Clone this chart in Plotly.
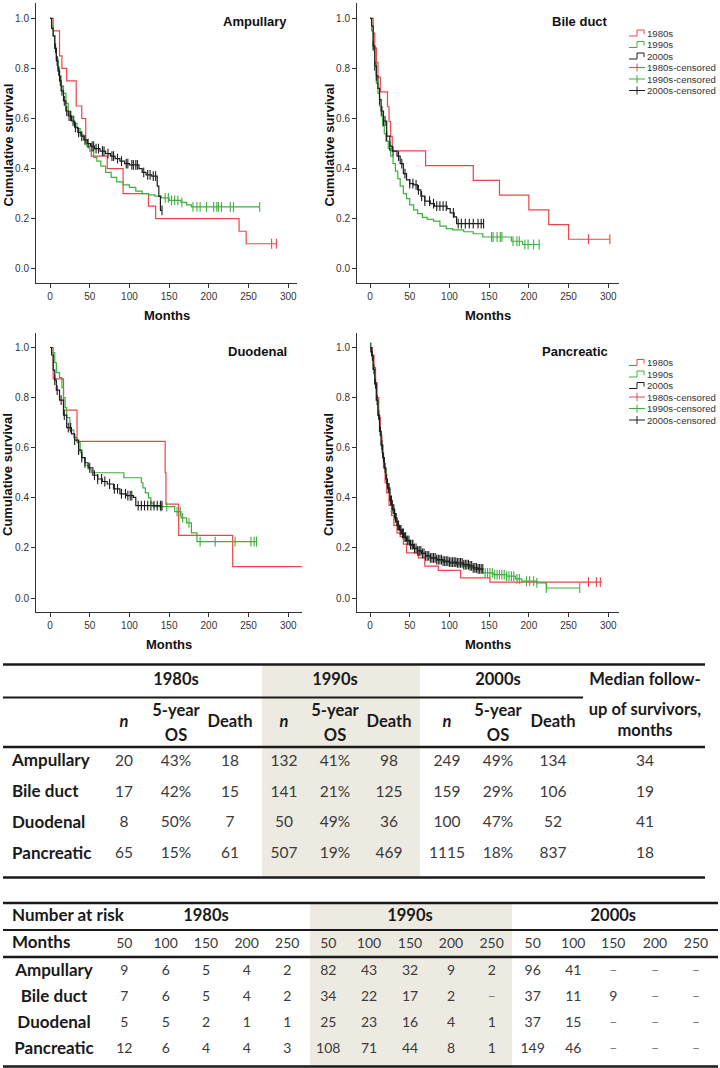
import numpy as np
import plotly.graph_objects as go

W, H = 720, 1068

# ---------------- DATA ----------------
categories = ["Ampullary", "Bile duct", "Duodenal", "Pancreatic"]
decades = ["1980s", "1990s", "2000s"]
colors = {"1980s": "#EE4449", "1990s": "#3DB03D", "2000s": "#1E1E1E"}

# Kaplan-Meier step points (months, cumulative survival) and censor times
amp80_t = [0, 4, 12, 15, 21, 33, 40, 45, 52, 72, 92, 124, 133, 238, 247, 285]
amp80_s = [1.0, 0.95, 0.85, 0.80, 0.75, 0.65, 0.60, 0.50, 0.45, 0.40, 0.30, 0.25, 0.20, 0.15, 0.10, 0.10]
amp80_c = [279, 285]
amp90_t = [0, 2, 4, 6, 8, 10, 12, 14, 17, 20, 23, 26, 30, 34, 38, 42, 46, 50, 55, 59, 64, 70, 77, 84, 92, 100, 108, 116, 124, 132, 140, 150, 165, 172, 178, 264]
amp90_s = [1.0, 0.97, 0.93, 0.88, 0.84, 0.80, 0.77, 0.73, 0.70, 0.66, 0.63, 0.61, 0.58, 0.56, 0.535, 0.515, 0.49, 0.47, 0.445, 0.43, 0.41, 0.385, 0.365, 0.347, 0.335, 0.325, 0.31, 0.30, 0.295, 0.29, 0.283, 0.273, 0.265, 0.255, 0.247, 0.247]
amp90_c = [145, 149, 153, 157, 161, 166, 180, 185, 189, 197, 206, 210, 212, 216, 227, 231, 264]
amp00_t = [0, 2, 4, 6, 8, 10, 12, 14, 17, 20, 23, 27, 31, 35, 39, 43, 47, 51, 56, 63, 70, 76, 82, 88, 94, 100, 112, 116, 121, 128, 135, 137, 139, 141]
amp00_s = [1.0, 0.96, 0.93, 0.88, 0.83, 0.79, 0.75, 0.71, 0.67, 0.63, 0.61, 0.59, 0.565, 0.545, 0.53, 0.515, 0.50, 0.49, 0.48, 0.47, 0.46, 0.45, 0.44, 0.43, 0.42, 0.415, 0.40, 0.385, 0.375, 0.37, 0.33, 0.29, 0.233, 0.233]
amp00_c = [7, 9, 11, 13, 15, 18, 21, 24, 26, 29, 32, 36, 40, 44, 48, 53, 55, 58, 61, 66, 68, 73, 78, 80, 85, 90, 96, 98, 103, 105, 108, 110, 118, 123, 126, 130, 133, 141]

bil80_t = [0, 4, 6, 8, 10, 13, 22, 24, 26, 28, 70, 130, 163, 200, 225, 250, 302]
bil80_s = [1.0, 0.941, 0.882, 0.824, 0.765, 0.706, 0.647, 0.588, 0.529, 0.471, 0.412, 0.353, 0.294, 0.235, 0.176, 0.118, 0.118]
bil80_c = [275, 302]
bil90_t = [0, 2, 4, 6, 8, 10, 12, 14, 16, 18, 20, 23, 26, 29, 32, 35, 38, 42, 46, 50, 55, 60, 66, 72, 80, 88, 96, 104, 118, 130, 142, 178, 192, 213]
bil90_s = [1.0, 0.95, 0.88, 0.82, 0.74, 0.70, 0.65, 0.61, 0.57, 0.54, 0.51, 0.48, 0.45, 0.42, 0.39, 0.36, 0.33, 0.30, 0.28, 0.255, 0.235, 0.22, 0.205, 0.197, 0.19, 0.17, 0.16, 0.155, 0.148, 0.14, 0.127, 0.11, 0.097, 0.097]
bil90_c = [153, 155, 160, 164, 166, 180, 185, 188, 195, 199, 206, 213]
bil00_t = [0, 2, 4, 6, 8, 10, 12, 14, 17, 21, 25, 28, 34, 38, 42, 46, 50, 55, 60, 64, 69, 76, 81, 97, 101, 106, 109, 143]
bil00_s = [1.0, 0.97, 0.89, 0.81, 0.77, 0.72, 0.675, 0.63, 0.59, 0.53, 0.49, 0.47, 0.45, 0.42, 0.38, 0.355, 0.34, 0.335, 0.315, 0.29, 0.27, 0.26, 0.25, 0.24, 0.223, 0.207, 0.18, 0.18]
bil00_c = [4, 6, 8, 12, 15, 17, 19, 21, 25, 29, 36, 40, 44, 50, 54, 58, 61, 65, 69, 75, 80, 84, 88, 92, 96, 105, 111, 115, 120, 125, 130, 136, 140, 143]

duo80_t = [0, 4, 17, 34, 145, 146, 162, 230, 317]
duo80_s = [1.0, 0.875, 0.75, 0.625, 0.5, 0.375, 0.25, 0.125, 0.125]
duo80_c = []
duo90_t = [0, 2, 6, 8, 12, 15, 17, 19, 21, 25, 30, 34, 38, 40, 44, 48, 52, 93, 115, 117, 120, 124, 127, 130, 157, 165, 172, 178, 185, 260]
duo90_s = [1.0, 0.98, 0.94, 0.90, 0.88, 0.84, 0.80, 0.76, 0.72, 0.67, 0.64, 0.62, 0.58, 0.56, 0.53, 0.515, 0.50, 0.48, 0.46, 0.44, 0.42, 0.40, 0.38, 0.365, 0.345, 0.32, 0.30, 0.26, 0.225, 0.225]
duo90_c = [140, 147, 160, 164, 167, 175, 189, 208, 233, 253, 257, 260]
duo00_t = [0, 2, 4, 6, 8, 12, 17, 21, 27, 31, 36, 40, 44, 48, 54, 60, 66, 72, 80, 88, 96, 105, 108, 141]
duo00_s = [1.0, 0.97, 0.91, 0.87, 0.83, 0.79, 0.73, 0.68, 0.655, 0.63, 0.59, 0.56, 0.54, 0.52, 0.49, 0.475, 0.465, 0.455, 0.436, 0.416, 0.409, 0.402, 0.369, 0.369]
duo00_c = [6, 9, 14, 18, 23, 26, 31, 36, 40, 44, 50, 56, 60, 65, 69, 75, 81, 85, 90, 95, 98, 101, 103, 111, 115, 119, 123, 127, 131, 135, 139, 141]

pan80_t = [0, 3, 5, 7, 9, 11, 13, 15, 17, 19, 21, 24, 27, 30, 34, 38, 42, 46, 61, 69, 86, 114, 151, 292]
pan80_s = [1.0, 0.97, 0.92, 0.86, 0.80, 0.72, 0.65, 0.58, 0.52, 0.46, 0.42, 0.37, 0.33, 0.29, 0.26, 0.245, 0.215, 0.18, 0.16, 0.127, 0.11, 0.08, 0.063, 0.063]
pan80_c = [275, 285, 290]
pan90_t = [0, 2, 4, 6, 8, 10, 12, 14, 16, 18, 20, 22, 25, 28, 31, 34, 37, 40, 43, 46, 50, 55, 60, 65, 70, 76, 84, 92, 100, 109, 118, 125, 132, 142, 155, 172, 183, 191, 210, 222, 264]
pan90_s = [1.0, 0.967, 0.913, 0.855, 0.79, 0.73, 0.665, 0.61, 0.56, 0.515, 0.47, 0.435, 0.385, 0.35, 0.315, 0.288, 0.27, 0.255, 0.24, 0.227, 0.21, 0.198, 0.188, 0.178, 0.168, 0.158, 0.15, 0.143, 0.138, 0.133, 0.127, 0.12, 0.113, 0.10, 0.093, 0.087, 0.076, 0.067, 0.06, 0.04, 0.04]
pan90_c = [145, 148, 151, 154, 157, 160, 163, 166, 169, 172, 175, 178, 181, 185, 188, 197, 201, 206, 210, 222, 264]
pan00_t = [0, 2, 4, 6, 8, 10, 12, 14, 16, 18, 20, 22, 25, 28, 31, 34, 37, 40, 43, 46, 50, 55, 60, 65, 70, 76, 84, 92, 100, 109, 118, 125, 130, 136, 143]
pan00_s = [1.0, 0.967, 0.913, 0.855, 0.79, 0.73, 0.665, 0.61, 0.56, 0.52, 0.475, 0.44, 0.39, 0.355, 0.32, 0.29, 0.272, 0.258, 0.243, 0.23, 0.213, 0.198, 0.188, 0.178, 0.168, 0.16, 0.153, 0.147, 0.143, 0.14, 0.133, 0.128, 0.12, 0.116, 0.116]
pan00_c = [1, 3, 5, 7, 9, 11, 13, 15, 17, 19, 21, 23, 24, 26, 27, 29, 30, 32, 33, 35, 36, 38, 39, 41, 42, 44, 45, 47, 49, 51, 53, 54, 56, 58, 60, 62, 64, 66, 68, 70, 72, 74, 76, 78, 80, 82, 84, 86, 88, 90, 92, 94, 96, 98, 100, 102, 104, 106, 108, 110, 112, 114, 116, 118, 120, 122, 124, 126, 128, 130, 132, 134, 136, 138, 140, 142]

km = {
    "Ampullary": {"1980s": (amp80_t, amp80_s, amp80_c), "1990s": (amp90_t, amp90_s, amp90_c), "2000s": (amp00_t, amp00_s, amp00_c)},
    "Bile duct": {"1980s": (bil80_t, bil80_s, bil80_c), "1990s": (bil90_t, bil90_s, bil90_c), "2000s": (bil00_t, bil00_s, bil00_c)},
    "Duodenal": {"1980s": (duo80_t, duo80_s, duo80_c), "1990s": (duo90_t, duo90_s, duo90_c), "2000s": (duo00_t, duo00_s, duo00_c)},
    "Pancreatic": {"1980s": (pan80_t, pan80_s, pan80_c), "1990s": (pan90_t, pan90_s, pan90_c), "2000s": (pan00_t, pan00_s, pan00_c)},
}

x_ticks = [0, 50, 100, 150, 200, 250, 300]
y_ticks = [0.0, 0.2, 0.4, 0.6, 0.8, 1.0]

# Summary table
n_1980s = [20, 17, 8, 65]
os5_1980s = [43, 42, 50, 15]
death_1980s = [18, 15, 7, 61]
n_1990s = [132, 141, 50, 507]
os5_1990s = [41, 21, 49, 19]
death_1990s = [98, 125, 36, 469]
n_2000s = [249, 159, 100, 1115]
os5_2000s = [49, 29, 47, 18]
death_2000s = [134, 106, 52, 837]
median_followup = [34, 19, 41, 18]

# Number at risk table
risk_months = [50, 100, 150, 200, 250]
risk_1980s = [[9, 6, 5, 4, 2], [7, 6, 5, 4, 2], [5, 5, 2, 1, 1], [12, 6, 4, 4, 3]]
risk_1990s = [[82, 43, 32, 9, 2], [34, 22, 17, 2, None], [25, 23, 16, 4, 1], [108, 71, 44, 8, 1]]
risk_2000s = [[96, 41, None, None, None], [37, 11, 9, None, None], [37, 15, None, None, None], [149, 46, None, None, None]]

# ---------------- LAYOUT HELPERS ----------------
PPM = 0.7943  # pixels per month
PPU = 250.5   # pixels per survival unit
panels = [
    # name, x px span, y px span, px of month 0, px of survival 1.0, legend top
    ("Ampullary", (36, 297), (3, 283), 50, 18.3, None),
    ("Bile duct", (357, 619), (3, 283), 370, 18.3, 33),
    ("Duodenal", (36, 302), (333, 612), 50, 347.5, None),
    ("Pancreatic", (357, 619), (333, 612), 370, 347.5, 362.5),
]

FONT_PLOT = "Liberation Sans"
FONT_TAB = "Lato"
fig = go.Figure()
layout_axes = {}
annotations = []
shapes = []


def step_at(t, s, c):
    t = np.asarray(t, float)
    s = np.asarray(s, float)
    idx = np.searchsorted(t, np.asarray(c, float), side="right") - 1
    return s[np.clip(idx, 0, len(s) - 1)]


for i, (name, xs, ys, x0, y1, leg_y) in enumerate(panels):
    k = i + 1
    xr = [(xs[0] - x0) / PPM, (xs[1] - x0) / PPM]
    y0 = y1 + PPU
    yr = [-(ys[1] - y0) / PPU, 1 + (y1 - ys[0]) / PPU]
    axcommon = dict(showline=True, linecolor="#333", linewidth=1, ticks="outside", ticklen=4,
                    tickcolor="#333", tickwidth=1, showgrid=False, zeroline=False,
                    tickfont=dict(family=FONT_PLOT, size=10, color="#333"), fixedrange=True)
    layout_axes[f"xaxis{k}"] = dict(domain=[xs[0] / W, xs[1] / W], range=xr, anchor=f"y{k}",
                                    tickvals=x_ticks, **axcommon)
    layout_axes[f"yaxis{k}"] = dict(domain=[1 - ys[1] / H, 1 - ys[0] / H], range=yr, anchor=f"x{k}",
                                    tickvals=y_ticks, tickformat=".1f", **axcommon)
    for dec in decades:
        t, s, c = km[name][dec]
        fig.add_trace(go.Scatter(x=t, y=s, mode="lines", line=dict(shape="hv", color=colors[dec], width=1.2),
                                 xaxis=f"x{k}", yaxis=f"y{k}", showlegend=False, hoverinfo="skip"))
        if len(c):
            fig.add_trace(go.Scatter(x=c, y=step_at(t, s, c), mode="markers",
                                     marker=dict(symbol="line-ns-open", size=7, color=colors[dec],
                                                 line=dict(width=1.1, color=colors[dec])),
                                     xaxis=f"x{k}", yaxis=f"y{k}", showlegend=False, hoverinfo="skip"))
    # panel title
    annotations.append(dict(x=(289 if xs[0] < 100 else 610), y=(ys[0] + 18), xref="x5", yref="y5",
                            text=f"<b>{name}</b>", showarrow=False, xanchor="right", yanchor="middle",
                            font=dict(family=FONT_PLOT, size=13, color="#111")))
    # axis titles
    annotations.append(dict(x=(xs[0] + xs[1]) / 2, y=ys[1] + 32, xref="x5", yref="y5", text="<b>Months</b>",
                            showarrow=False, xanchor="center", yanchor="middle",
                            font=dict(family=FONT_PLOT, size=13, color="#111")))
    annotations.append(dict(x=xs[0] - 28.5, y=(ys[0] + ys[1]) / 2 + 2, xref="x5", yref="y5",
                            text="<b>Cumulative survival</b>", textangle=-90, showarrow=False,
                            xanchor="center", yanchor="middle",
                            font=dict(family=FONT_PLOT, size=13, color="#111")))
    # legend
    if leg_y is not None:
        entries = [(d, colors[d], "step") for d in decades] + [(d + "-censored", colors[d], "cens") for d in decades]
        for j, (lab, col, kind) in enumerate(entries):
            yy = leg_y + j * 11.5
            if kind == "step":
                path = f"M629,{yy+3} L637,{yy+3} L637,{yy-3} L644,{yy-3} L644,{yy+1}"
                shapes.append(dict(type="path", path=path, xref="x5", yref="y5", line=dict(color=col, width=1)))
            else:
                shapes.append(dict(type="line", x0=629, x1=645, y0=yy, y1=yy, xref="x5", yref="y5",
                                   line=dict(color=col, width=1)))
                shapes.append(dict(type="line", x0=637, x1=637, y0=yy - 4, y1=yy + 4, xref="x5", yref="y5",
                                   line=dict(color=col, width=1)))
            annotations.append(dict(x=645, y=yy, xref="x5", yref="y5", text=lab, showarrow=False,
                                    xanchor="left", yanchor="middle",
                                    font=dict(family=FONT_PLOT, size=9.6, color="#333")))

# pixel overlay axis for tables
layout_axes["xaxis5"] = dict(domain=[0, 1], range=[0, W], visible=False, anchor="y5", fixedrange=True)
layout_axes["yaxis5"] = dict(domain=[0, 1], range=[H, 0], visible=False, anchor="x5", fixedrange=True)

LAB = "#1a1a1a"
NUM = "#3a3a3a"
SHADE = "#EDEBE1"


def text_trace(xs, ys, texts, size, color, pos="middle center"):
    fig.add_trace(go.Scatter(x=xs, y=ys, text=texts, mode="text", textposition=pos,
                             textfont=dict(family=FONT_TAB, size=size, color=color),
                             xaxis="x5", yaxis="y5", showlegend=False, hoverinfo="skip"))


# ---- Table 1 ----
shapes.append(dict(type="rect", x0=262, x1=420, y0=664.5, y1=877.5, xref="x5", yref="y5",
                   fillcolor=SHADE, line=dict(width=0), layer="below"))
for y, x1, w in [(664.5, 705, 2.5), (697.5, 583, 2), (747, 705, 2.5), (877.5, 705, 2.5)]:
    shapes.append(dict(type="line", x0=3, x1=x1, y0=y, y1=y, xref="x5", yref="y5",
                       line=dict(color="#1a1a1a", width=w)))

t1_rows = [762, 792.8, 823.6, 854.4]
t1_cols = {"1980s": [124, 176, 230], "1990s": [284, 335, 389], "2000s": [447, 498, 553]}
t1_data = {"1980s": (n_1980s, os5_1980s, death_1980s), "1990s": (n_1990s, os5_1990s, death_1990s),
           "2000s": (n_2000s, os5_2000s, death_2000s)}
median_x = 645

hx, hy, ht = [], [], []
for dec in decades:
    cx = t1_cols[dec]
    hx += [cx[1], cx[0], cx[1], cx[1], cx[2]]
    hy += [681, 723, 712, 737, 723]
    ht += [f"<b>{dec}</b>", "<b><i>n</i></b>", "<b>5-year</b>", "<b>OS</b>", "<b>Death</b>"]
hx += [median_x] * 3
hy += [681, 711, 732]
ht += ["<b>Median follow-</b>", "<b>up of survivors,</b>", "<b>months</b>"]
text_trace(hx, hy, ht, 16.5, LAB)
text_trace([12] * 4, t1_rows, [f"<b>{c}</b>" for c in categories], 17, LAB, "middle right")

vx, vy, vt = [], [], []
for dec in decades:
    n, o, d = t1_data[dec]
    cx = t1_cols[dec]
    for r in range(4):
        vx += cx
        vy += [t1_rows[r]] * 3
        vt += [str(n[r]), f"{o[r]}%", str(d[r])]
for r in range(4):
    vx.append(median_x)
    vy.append(t1_rows[r])
    vt.append(str(median_followup[r]))
text_trace(vx, vy, vt, 15.5, NUM)

# ---- Table 2 ----
shapes.append(dict(type="rect", x0=310, x1=512, y0=903, y1=1067, xref="x5", yref="y5",
                   fillcolor=SHADE, line=dict(width=0), layer="below"))
for y, w in [(903, 2.5), (930, 2), (957, 2.5), (1066.5, 2.5)]:
    shapes.append(dict(type="line", x0=3, x1=718, y0=y, y1=y, xref="x5", yref="y5",
                       line=dict(color="#1a1a1a", width=w)))

t2_cols = {"1980s": [124.3, 165.7, 206, 246.7, 287.3], "1990s": [328.3, 369, 410, 451, 491.7],
           "2000s": [532.7, 573.3, 613.3, 655, 696]}
t2_data = {"1980s": risk_1980s, "1990s": risk_1990s, "2000s": risk_2000s}
t2_rows = [971.5, 997.5, 1023.5, 1049.5]

text_trace([12, 12], [917, 944], ["<b>Number at risk</b>", "<b>Months</b>"], 17, LAB, "middle right")
text_trace([t2_cols[d][2] for d in decades], [917] * 3, [f"<b>{d}</b>" for d in decades], 16.5, LAB)
text_trace([54] * 4, t2_rows, [f"<b>{c}</b>" for c in categories], 17, LAB)

mx, my, mt = [], [], []
rx, ry, rt = [], [], []
dx, dy, dt = [], [], []
for dec in decades:
    for j, m in enumerate(risk_months):
        mx.append(t2_cols[dec][j]); my.append(944); mt.append(str(m))
        for r in range(4):
            v = t2_data[dec][r][j]
            if v is None:
                dx.append(t2_cols[dec][j]); dy.append(t2_rows[r]); dt.append("–")
            else:
                rx.append(t2_cols[dec][j]); ry.append(t2_rows[r]); rt.append(str(v))
text_trace(mx, my, mt, 14, NUM)
text_trace(rx, ry, rt, 14, NUM)
text_trace(dx, dy, dt, 14, "#777")

fig.update_layout(
    width=W, height=H, margin=dict(l=0, r=0, t=0, b=0),
    paper_bgcolor="white", plot_bgcolor="rgba(0,0,0,0)",
    showlegend=False, annotations=annotations, shapes=shapes, **layout_axes,
)

fig.write_html("out.html", config={"displayModeBar": False, "staticPlot": True},
               post_script="document.body.style.margin='0px';document.body.style.overflow='hidden';")
